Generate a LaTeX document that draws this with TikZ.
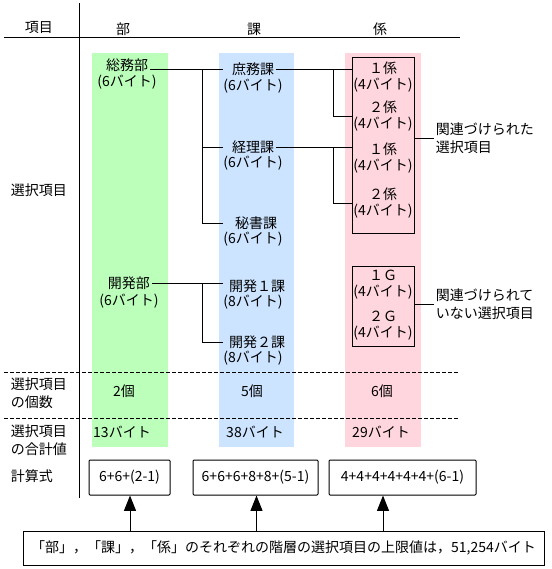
\documentclass[tikz,border=0pt]{standalone}
\usepackage{fontspec}
\setmainfont{Noto Sans CJK JP}
\usetikzlibrary{arrows.meta}
\definecolor{bandgreen}{RGB}{187,255,187}
\definecolor{bandblue}{RGB}{204,228,255}
\definecolor{bandpink}{RGB}{255,214,222}
\begin{document}
\begin{tikzpicture}[x=0.75pt,y=-0.75pt,line width=0.75pt,
  txt/.style={font=\fontsize{10.5}{12}\selectfont,inner sep=1pt,align=center},
  lft/.style={font=\fontsize{10.5}{13.5}\selectfont,inner sep=1pt,align=left,anchor=west},
  band/.style={minimum width=57pt,minimum height=295.5pt,inner sep=0pt},
  grp/.style={draw,minimum width=46.5pt,inner sep=0pt},
  calcbox/.style={draw,rounded corners=0.75pt,minimum height=26.25pt,inner sep=0pt,
    font=\fontsize{10.5}{12}\selectfont},
  sep/.style={dash pattern=on 3pt off 1.5pt},
  arr/.style={-{Triangle[width=9pt,length=11.5pt]}}]
\useasboundingbox (0,0) rectangle (552,569);
% --- column bands ---
\node[band,fill=bandgreen] (bandBu) at (130,250) {};
\node[band,fill=bandblue,minimum width=56.25pt] (bandKa) at (256.5,250) {};
\node[band,fill=bandpink] (bandKk) at (383,250) {};
% --- table frame ---
\draw (4,37.5) -- (460,37.5);
\draw (79,3) -- (79,498);
\draw[sep] (4,372) -- (458,372);
\draw[sep] (4,418) -- (458,418);
% --- headers ---
\node[txt] (hKomoku) at (39,28) {項目};
\node[txt] (hBu) at (123,29) {部};
\node[txt] (hKa) at (254,29) {課};
\node[txt] (hKk) at (380,29) {係};
\node[lft] (lSentaku) at (9,190) {選択項目};
\node[lft] (lKosu) at (9,393) {選択項目\\の個数};
\node[lft] (lGokei) at (9,440) {選択項目\\の合計値};
\node[lft] (lShiki) at (9,476) {計算式};
% --- bu ---
\node[txt] (somu) at (127,65) {総務部};
\node[txt] (somuB) at (127,82) {(6バイト)};
\node[txt] (kaihatsu) at (129,283) {開発部};
\node[txt] (kaihatsuB) at (129,301) {(6バイト)};
% --- ka ---
\node[txt] (shomu) at (253,69) {庶務課};
\node[txt] (shomuB) at (253,86) {(6バイト)};
\node[txt] (keiri) at (253,147) {経理課};
\node[txt] (keiriB) at (253,163) {(6バイト)};
\node[txt] (hisho) at (256,223) {秘書課};
\node[txt] (hishoB) at (253,239) {(6バイト)};
\node[txt] (kai1) at (257,286) {開発１課};
\node[txt] (kai1B) at (253,302) {(8バイト)};
\node[txt] (kai2) at (257,342) {開発２課};
\node[txt] (kai2B) at (253,358) {(8バイト)};
% --- kakari ---
\node[grp,minimum height=132pt] (boxA) at (383,145) {};
\node[txt] (kA1) at (383,77) {１係\\(4バイト)};
\node[txt] (kA2) at (383,116.5) {２係\\(4バイト)};
\node[txt] (kA3) at (383,158.5) {１係\\(4バイト)};
\node[txt] (kA4) at (383,203.5) {２係\\(4バイト)};
\node[grp,minimum height=60pt] (boxB) at (383,306) {};
\node[txt] (gB1) at (383,285) {１Ｇ\\(4バイト)};
\node[txt] (gB2) at (383,326) {２Ｇ\\(4バイト)};
\node[lft] (noteA) at (434,138) {関連づけられた\\選択項目};
\node[lft] (noteB) at (434,304) {関連づけられて\\いない選択項目};
\draw (noteA.west -| boxA.east) -- (noteA.west);
\draw (noteB.west -| boxB.east) -- (noteB.west);
% --- tree lines ---
\coordinate (tb) at (202,0);
\coordinate (ka) at (223,0);
\coordinate (tk) at (333,0);
\draw (shomu.west -| somu.east) -- (shomu.west -| ka);
\draw (shomu.west -| tb) |- (keiri.west -| ka);
\draw (shomu.west -| tb) |- (hisho.west -| ka);
\draw (kaihatsu.east) -- (kaihatsu.east -| ka);
\draw (kaihatsu.east -| tb) |- (kai2.west -| ka);
\draw (shomu.east) -- (shomu.east -| kA1.west);
\draw (shomu.east -| tk) |- (kA2.west);
\draw (keiri.east) -- (keiri.east -| kA3.west);
\draw (keiri.east -| tk) |- (kA4.west);
% --- counts and totals ---
\node[txt] (nBu) at (124,391) {2個};
\node[txt] (nKa) at (252,391) {5個};
\node[txt] (nKk) at (382,391) {6個};
\node[txt] (sBu) at (122,432) {13バイト};
\node[txt] (sKa) at (255,432) {38バイト};
\node[txt] (sKk) at (381,432) {29バイト};
% --- formulas ---
\node[calcbox,minimum width=60.75pt] (f1) at (129.5,477.5) {6+6+(2-1)};
\node[calcbox,minimum width=93.75pt] (f2) at (255.5,477.5) {6+6+6+8+8+(5-1)};
\node[calcbox,minimum width=110.25pt] (f3) at (402.5,477.5) {4+4+4+4+4+4+(6-1)};
\node[calcbox,rounded corners=0pt,minimum width=390.75pt,minimum height=25.5pt] (limit) at (283.5,548)
  {「部」，「課」，「係」のそれぞれの階層の選択項目の上限値は，51,254バイト};
\draw[arr] (limit.north -| bandBu) -- (f1.south -| bandBu);
\draw[arr] (limit.north -| bandKa) -- (f2.south -| bandKa);
\draw[arr] (limit.north -| bandKk) -- (f3.south -| bandKk);
\end{tikzpicture}
\end{document}
